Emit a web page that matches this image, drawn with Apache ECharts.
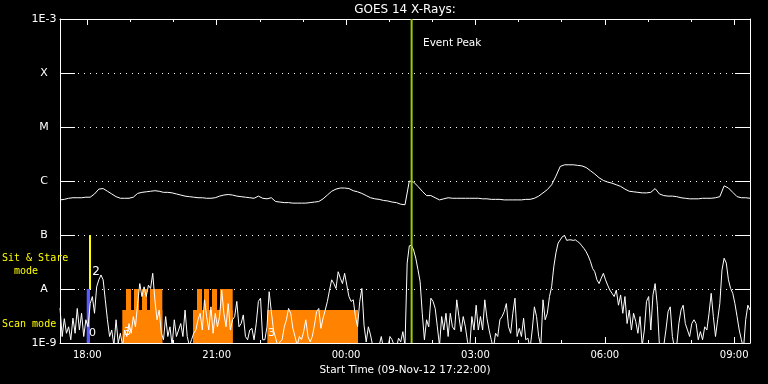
<!DOCTYPE html>
<html><head><meta charset="utf-8">
<script src="https://cdn.jsdelivr.net/npm/echarts@6/dist/echarts.min.js"></script>
<style>html,body{margin:0;padding:0;background:#000;}#c{width:768px;height:384px;}</style>
</head><body><div id="c"></div>
<script>
// ---- time base (hours since 09-Nov-12 00:00) ----
const START_HOUR = 17 + 22 / 60;          // 17:22
const END_HOUR = START_HOUR + 16;          // 09:22 next day
const SHORT_STEP = 0.05;                   // 3-minute samples
const LONG_STEP = 0.1;                     // 6-minute samples
const Y_MIN = 1e-9, Y_MAX = 1e-3;

// log10 of flux (W/m^2), 0.5-4 A channel
const shortLog10 = [
-8.35,-8.88,-8.55,-8.82,-8.70,-8.94,-8.54,-8.82,-8.36,-8.76,-8.45,-8.88,-8.57,-8.70,-8.27,-8.14,-8.45,-7.96,-7.83,-7.74,
-7.83,-8.20,-8.57,-8.88,-8.76,-9.05,-8.57,-9.00,-8.82,-9.05,-8.76,-8.88,-8.64,-8.82,-8.51,-8.70,-8.27,-7.90,-8.14,-7.96,
-8.14,-7.93,-7.99,-7.71,-8.20,-8.57,-8.39,-8.82,-8.94,-8.51,-8.88,-8.70,-9.05,-8.57,-8.88,-8.76,-8.64,-8.88,-8.39,-8.88,
-9.05,-8.94,-8.82,-8.76,-8.57,-8.45,-8.76,-8.20,-8.51,-8.76,-8.33,-8.82,-8.45,-8.70,-8.51,-8.02,-8.45,-8.70,-8.27,-8.76,
-8.57,-8.51,-8.23,-8.70,-8.64,-8.48,-8.88,-8.94,-8.76,-8.73,-8.94,-8.64,-8.23,-8.17,-8.94,-8.94,-8.70,-8.05,-8.42,-8.76,
-8.91,-9.05,-8.98,-8.94,-8.70,-8.57,-8.36,-8.45,-8.73,-8.88,-9.05,-8.88,-8.94,-8.79,-8.57,-8.88,-8.98,-8.88,-8.67,-8.42,
-8.36,-8.73,-8.54,-8.39,-8.23,-8.02,-7.83,-7.90,-7.99,-7.68,-7.80,-7.90,-7.71,-7.93,-8.14,-8.23,-8.20,-8.51,-8.70,-8.23,
-7.99,-8.67,-8.98,-8.70,-8.85,-9.05,-9.10,-9.10,-9.05,-8.88,-9.10,-9.05,-9.10,-8.88,-8.94,-9.05,-9.10,-8.91,-8.98,-8.79,
-9.05,-7.52,-7.20,-7.19,-7.28,-7.43,-7.64,-7.86,-8.45,-8.94,-8.57,-8.70,-8.17,-8.23,-8.36,-8.70,-9.05,-8.51,-8.76,-8.45,
-8.88,-8.45,-8.70,-8.76,-8.20,-8.51,-8.79,-8.51,-8.70,-8.98,-9.10,-8.51,-8.76,-8.30,-8.76,-8.51,-8.76,-8.20,-8.54,-8.76,
-8.94,-9.10,-8.82,-8.88,-8.57,-8.51,-8.42,-8.27,-8.70,-8.82,-8.45,-8.17,-8.88,-8.73,-8.88,-8.54,-8.94,-8.91,-9.10,-8.76,
-8.33,-8.51,-8.88,-9.05,-8.20,-8.57,-8.45,-8.14,-7.96,-7.59,-7.33,-7.15,-7.09,-7.03,-7.01,-7.10,-7.09,-7.09,-7.10,-7.09,
-7.12,-7.15,-7.20,-7.25,-7.31,-7.39,-7.49,-7.62,-7.68,-7.83,-7.90,-7.80,-7.71,-7.83,-7.93,-8.02,-8.08,-8.14,-8.02,-8.30,
-8.11,-8.45,-8.14,-8.64,-8.39,-8.76,-8.45,-8.60,-8.82,-8.51,-9.05,-8.76,-8.23,-8.14,-8.76,-8.11,-7.90,-8.30,-9.05,-9.10,
-9.05,-8.76,-8.42,-8.33,-8.88,-9.10,-9.05,-8.64,-8.39,-8.30,-8.64,-8.76,-8.88,-8.64,-8.57,-8.64,-8.94,-8.79,-8.94,-8.70,
-8.76,-8.45,-8.08,-8.51,-8.88,-8.57,-8.27,-7.65,-7.43,-7.52,-7.83,-7.99,-8.08,-8.27,-8.51,-8.76,-8.94,-9.10,-8.57,-8.30,-8.39
];

// log10 of flux (W/m^2), 1-8 A channel
const longLog10 = [
-6.35,-6.34,-6.32,-6.31,-6.31,-6.31,-6.30,-6.30,-6.24,-6.15,-6.14,-6.19,-6.24,-6.29,-6.32,-6.32,-6.32,-6.30,-6.23,-6.21,
-6.20,-6.19,-6.18,-6.19,-6.21,-6.21,-6.22,-6.24,-6.26,-6.28,-6.29,-6.30,-6.31,-6.31,-6.32,-6.32,-6.31,-6.28,-6.26,-6.25,
-6.26,-6.28,-6.29,-6.30,-6.31,-6.32,-6.28,-6.32,-6.33,-6.31,-6.38,-6.39,-6.40,-6.40,-6.41,-6.41,-6.41,-6.41,-6.40,-6.39,
-6.38,-6.33,-6.26,-6.19,-6.15,-6.13,-6.13,-6.14,-6.18,-6.20,-6.23,-6.27,-6.31,-6.33,-6.34,-6.36,-6.37,-6.39,-6.40,-6.43,
-6.44,-6.00,-6.02,-6.10,-6.19,-6.27,-6.27,-6.31,-6.35,-6.33,-6.31,-6.32,-6.32,-6.32,-6.32,-6.32,-6.32,-6.32,-6.33,-6.33,
-6.34,-6.34,-6.34,-6.35,-6.35,-6.35,-6.35,-6.35,-6.34,-6.34,-6.32,-6.28,-6.22,-6.16,-6.07,-5.91,-5.73,-5.70,-5.70,-5.70,
-5.71,-5.72,-5.75,-5.81,-5.87,-5.94,-5.99,-6.02,-6.04,-6.07,-6.10,-6.15,-6.19,-6.20,-6.21,-6.22,-6.22,-6.21,-6.14,-6.24,
-6.27,-6.28,-6.28,-6.29,-6.31,-6.32,-6.33,-6.33,-6.33,-6.32,-6.32,-6.32,-6.31,-6.29,-6.09,-6.13,-6.21,-6.29,-6.31,-6.31,-6.32
];

// y tick labels (by decade exponent)
const yTickLabels = {'-3':'1E-3','-4':'X','-5':'M','-6':'C','-7':'B','-8':'A','-9':'1E-9'};
// x tick positions (hours)
const hourLabels = [18, 21, 24, 27, 30, 33];
const hourTicks = [18,19,20,21,22,23,24,25,26,27,28,29,30,31,32,33];

// scan mode intervals: [start hour, end hour, low flux, high flux]
const scanMode = [
  [18.811, 19.739, 1e-9, 4.1e-9],
  [18.897, 19.013, 1e-9, 1e-8],
  [19.083, 19.199, 1e-9, 1e-8],
  [19.268, 19.384, 1e-9, 1e-8],
  [19.454, 19.739, 1e-9, 1e-8],
  [20.451, 21.371, 1e-9, 4.1e-9],
  [20.544, 20.660, 1e-9, 1e-8],
  [20.706, 20.822, 1e-9, 1e-8],
  [20.891, 21.007, 1e-9, 1e-8],
  [21.077, 21.371, 1e-9, 1e-8],
  [22.174, 24.277, 1e-9, 4.1e-9]
];
// sit & stare markers
const sitStareBlue = [[17.986, 18.062, 1e-9, 1e-8]];
const sitStareYellow = [[18.039, 18.086, 1e-8, 1e-7]];
// event peak time (hours)
const eventPeak = [[25.52, 1e-6]];

const FONT = 'DejaVu Sans';
const shortData = shortLog10.map((v, i) => [START_HOUR + i * SHORT_STEP, Math.pow(10, v)]);
const longData = longLog10.map((v, i) => [START_HOUR + i * LONG_STEP, Math.pow(10, v)]);

function rectRenderer(color) {
  return function (params, api) {
    const a = api.coord([api.value(0), api.value(3)]);
    const b = api.coord([api.value(1), api.value(2)]);
    return {type: 'rect', shape: {x: a[0], y: a[1], width: b[0] - a[0], height: b[1] - a[1]}, style: {fill: color}};
  };
}
function hhmm(v) { const h = Math.round(v) % 24; return (h < 10 ? '0' : '') + h + ':00'; }

const xBase = {type: 'value', min: START_HOUR, max: END_HOUR, splitLine: {show: false}};
const chart = echarts.init(document.getElementById('c'), null, {renderer: 'canvas'});
chart.setOption({
  backgroundColor: '#000',
  animation: false,
  grid: {left: 60, right: 18, top: 19, bottom: 41, containLabel: false},
  xAxis: [
    Object.assign({}, xBase, {position: 'bottom',
      name: 'Start Time (09-Nov-12 17:22:00)', nameLocation: 'middle', nameGap: 20,
      nameTextStyle: {color: '#fff', fontFamily: FONT, fontSize: 10.5},
      axisLine: {show: true, lineStyle: {color: '#fff', width: 1}},
      axisTick: {show: true, inside: true, length: 6, customValues: hourLabels, lineStyle: {color: '#fff'}},
      axisLabel: {show: true, customValues: hourLabels, formatter: hhmm, color: '#fff', fontFamily: FONT, fontSize: 10, margin: 7}}),
    Object.assign({}, xBase, {position: 'bottom',
      axisLine: {show: false}, axisLabel: {show: false},
      axisTick: {show: true, inside: true, length: 3, customValues: hourTicks, lineStyle: {color: '#fff'}}}),
    Object.assign({}, xBase, {position: 'top',
      axisLine: {show: true, lineStyle: {color: '#fff', width: 1}}, axisLabel: {show: false},
      axisTick: {show: true, inside: true, length: 6, customValues: hourLabels, lineStyle: {color: '#fff'}}}),
    Object.assign({}, xBase, {position: 'top',
      axisLine: {show: false}, axisLabel: {show: false},
      axisTick: {show: true, inside: true, length: 3, customValues: hourTicks, lineStyle: {color: '#fff'}}})
  ],
  yAxis: [
    {type: 'log', logBase: 10, min: Y_MIN, max: Y_MAX, position: 'left',
      axisLine: {show: true, lineStyle: {color: '#fff', width: 1}},
      axisTick: {show: true, inside: true, length: 15, lineStyle: {color: '#fff'}},
      axisLabel: {color: '#fff', fontFamily: FONT, fontSize: 11, margin: 16, align: 'center',
        formatter: v => yTickLabels[String(Math.round(Math.log10(v)))] || ''},
      splitLine: {show: true, lineStyle: {color: '#fff', width: 1, type: [1, 5]}},
      minorTick: {show: false}, minorSplitLine: {show: false}},
    {type: 'log', logBase: 10, min: Y_MIN, max: Y_MAX, position: 'right',
      axisLine: {show: true, lineStyle: {color: '#fff', width: 1}},
      axisTick: {show: true, inside: true, length: 15, lineStyle: {color: '#fff'}},
      axisLabel: {show: false}, splitLine: {show: false}}
  ],
  series: [
    {type: 'custom', name: 'scan', data: scanMode, renderItem: rectRenderer('#ff8200'), z: 1, silent: true},
    {type: 'custom', name: 'sitBlue', data: sitStareBlue, renderItem: rectRenderer('#5a5aff'), z: 2, silent: true},
    {type: 'custom', name: 'sitYellow', data: sitStareYellow, renderItem: rectRenderer('#ffff00'), z: 5, silent: true},
    {type: 'line', name: 'short', data: shortData, showSymbol: false, symbol: 'none', clip: true, z: 3,
      lineStyle: {color: '#fff', width: 1}},
    {type: 'line', name: 'long', data: longData, showSymbol: false, symbol: 'none', clip: true, z: 3,
      lineStyle: {color: '#fff', width: 1}},
    {type: 'custom', name: 'event', data: eventPeak, z: 6, silent: true,
      renderItem: function (params, api) {
        const a = api.coord([api.value(0), Y_MAX]);
        const b = api.coord([api.value(0), Y_MIN]);
        return {type: 'line', shape: {x1: a[0], y1: a[1], x2: b[0], y2: b[1]}, style: {stroke: '#9acd00', lineWidth: 2}};
      }}
  ],
  graphic: [
    {type: 'text', x: 405, y: 10, z: 10, style: {text: 'GOES 14 X-Rays:', fill: '#fff', font: '12px "DejaVu Sans"', align: 'center', verticalAlign: 'middle'}},
    {type: 'text', x: 423, y: 43, z: 10, style: {text: 'Event Peak', fill: '#fff', font: '10.5px "DejaVu Sans"', align: 'left', verticalAlign: 'middle'}},
    {type: 'text', x: 2, y: 251.5, z: 10, style: {text: 'Sit & Stare\n  mode', fill: '#ffff00', font: '10px "DejaVu Sans Mono"', lineHeight: 13, align: 'left', verticalAlign: 'top'}},
    {type: 'text', x: 2, y: 324, z: 10, style: {text: 'Scan mode', fill: '#ffff00', font: '10px "DejaVu Sans Mono"', align: 'left', verticalAlign: 'middle'}},
    {type: 'text', x: 96, y: 272, z: 10, style: {text: '2', fill: '#fff', font: '12px "DejaVu Sans"', align: 'center', verticalAlign: 'middle'}},
    {type: 'text', x: 92.5, y: 333, z: 10, style: {text: '0', fill: '#fff', font: '11px "DejaVu Sans"', align: 'center', verticalAlign: 'middle'}},
    {type: 'text', x: 127.5, y: 332.5, z: 10, style: {text: '3', fill: '#fff', font: '11px "DejaVu Sans"', align: 'center', verticalAlign: 'middle'}},
    {type: 'text', x: 271.5, y: 333, z: 10, style: {text: '3', fill: '#fff', font: '11px "DejaVu Sans"', align: 'center', verticalAlign: 'middle'}}
  ]
});
</script></body></html>
